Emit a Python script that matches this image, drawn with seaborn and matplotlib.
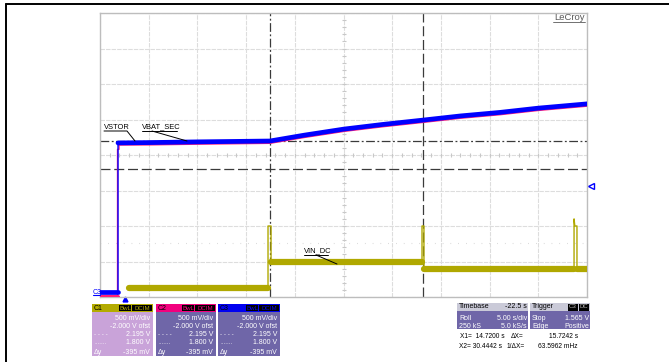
import numpy as np
import pandas as pd
import seaborn as sns
import matplotlib.pyplot as plt
from matplotlib.patches import Rectangle
from matplotlib.lines import Line2D

W, H = 669, 362

# ---- traces: time (s from left edge of screen), volts ----
c3_t = [0, 1.85, 1.85, 5, 10, 17.45, 21, 25.05, 29, 33.06, 37, 41.07, 45, 50]
c3_v = [0.07, 0.07, 2.17, 2.175, 2.185, 2.197, 2.28, 2.365, 2.43, 2.49, 2.55, 2.60, 2.66, 2.72]

c2_t = [0, 1.8, 1.8, 1.95, 1.95, 5, 10, 17.45, 21, 25.05, 29, 33.06, 37, 41.07, 45, 50]
c2_v = [0.0, 0.0, 2.08, 2.08, 2.16, 2.162, 2.172, 2.184, 2.267, 2.352, 2.417, 2.477, 2.537, 2.587, 2.647, 2.707]

c1_t = [2.98, 17.25, 17.25, 17.56, 17.56, 33.06, 33.06, 33.26, 33.26, 48.67, 48.67, 48.75, 48.75, 48.97, 48.97, 50]
c1_v = [0.13, 0.13, 1.0, 1.0, 0.50, 0.50, 1.0, 1.0, 0.40, 0.40, 1.10, 1.0, 1.0, 1.0, 0.40, 0.40]

# cursors
x1_t, x2_t = 17.45, 33.17
y1_v, y2_v = 2.195, 1.800
trig_level = 1.565
trig_time = 2.57

# panel texts
chan_names = ['C1', 'C2', 'C3']
chan_head = ['#b3ab00', '#f2007e', '#0000f0']
chan_body = ['#c9a3d9', '#6f66a8', '#6f66a8']
chan_rows = ['500 mV/div', '-2.000 V ofst', '2.195 V', '1.800 V', '-395 mV']
chan_syms = ['', '', '- - - -', '.......', '\u0394y']

YELLOW, MAGENTA, BLUE = '#b0a800', '#ff1f7a', '#0000ff'


def to_df(t, v):
    df = pd.DataFrame({'t': t, 'v': v})
    # segment id changes at every vertical jump
    df['seg'] = (df['t'].diff() == 0).cumsum()
    return df


def flat_parts(df):
    # keep only the runs that span some time (the noisy bands)
    g = df.groupby('seg')['t'].agg(lambda s: s.max() - s.min())
    return df[df['seg'].isin(g[g > 0.5].index)]


sns.set_style('white')
plt.rcParams['font.family'] = ['Liberation Sans', 'DejaVu Sans']

fig = plt.figure(figsize=(W / 100, H / 100), dpi=100)
ax = fig.add_axes([100 / W, 1 - 297 / H, 487 / W, 284 / H])
ax.set_xlim(0, 50)
ax.set_ylim(0, 4)
ax.set_xticks(np.arange(0, 50.1, 5))
ax.set_yticks(np.arange(0, 4.01, 0.5))
ax.tick_params(length=0, labelbottom=False, labelleft=False)
ax.grid(True, color='#dddddd', lw=0.8, ls=(0, (4, 1)))
ax.set_axisbelow(True)
for s in ax.spines.values():
    s.set_color('#bdbdbd')
    s.set_linewidth(1)

# center cross minor ticks
ax.plot(np.arange(0, 50.1, 1), np.full(51, 2.0), ls='none', marker='|', ms=3, color='#c8c8c8', mew=0.8)
ax.plot(np.full(41, 25.0), np.arange(0, 4.01, 0.1), ls='none', marker='_', ms=3, color='#c8c8c8', mew=0.8)
ax.axhline(0.765, color='#cccccc', lw=0.8, ls=(0, (0.6, 6.4)))

# cursors
ax.axvline(x1_t, color='#3a3a3a', lw=0.9, ls=(0, (7, 2, 1.5, 2)), zorder=2)
ax.axhline(y1_v, color='#3a3a3a', lw=0.9, ls=(0, (7, 2, 1.5, 2)), zorder=2)
ax.axvline(x2_t, color='#3a3a3a', lw=0.9, ls=(0, (8, 3)), zorder=2)
ax.axhline(y2_v, color='#3a3a3a', lw=0.9, ls=(0, (8, 3)), zorder=2)

# traces
c1 = to_df(c1_t, c1_v)
c2 = to_df(c2_t, c2_v)
c3 = to_df(c3_t, c3_v)

sns.lineplot(data=c1, x='t', y='v', sort=False, estimator=None, color=YELLOW, lw=1.0, ax=ax, zorder=3)
sns.lineplot(data=flat_parts(c1), x='t', y='v', units='seg', sort=False, estimator=None,
             color=YELLOW, lw=4.5, ax=ax, zorder=3)
sns.lineplot(data=c2, x='t', y='v', sort=False, estimator=None, color=MAGENTA, lw=1.0, ax=ax, zorder=4)
sns.lineplot(data=flat_parts(c2), x='t', y='v', units='seg', sort=False, estimator=None,
             color=MAGENTA, lw=3.0, ax=ax, zorder=4)
sns.lineplot(data=c3, x='t', y='v', sort=False, estimator=None, color=BLUE, lw=1.0, ax=ax, zorder=5)
sns.lineplot(data=flat_parts(c3), x='t', y='v', units='seg', sort=False, estimator=None,
             color=BLUE, lw=3.4, ax=ax, zorder=5)
ax.set_xlabel('')
ax.set_ylabel('')

# trigger markers
ax.plot([50.4], [trig_level], marker='<', ms=4, mfc='white', mec=BLUE, mew=1, clip_on=False)
ax.plot([trig_time], [-0.03], marker='^', ms=3.5, color=BLUE, clip_on=False)


def P(x, y):
    return x / W, 1 - y / H


def box(x0, y0, x1, y1, color):
    fig.patches.append(Rectangle(P(x0, y1), (x1 - x0) / W, (y1 - y0) / H,
                                 transform=fig.transFigure, facecolor=color, edgecolor='none'))


def txt(x, y, s, ha='left', color='white', size=5.0, **kw):
    fig.text(*P(x, y), s, ha=ha, va='center', color=color, fontsize=size, **kw)


def line(pts, color='black', lw=0.7):
    xs = [p[0] / W for p in pts]
    ys = [1 - p[1] / H for p in pts]
    fig.add_artist(Line2D(xs, ys, color=color, lw=lw))


# trace labels
txt(104, 127, 'VSTOR', color='black', size=5.4)
line([(104, 131), (127, 131), (135, 141)])
txt(142, 127, 'VBAT_SEC', color='black', size=5.4)
line([(142, 131), (177, 131)])
line([(152, 131), (187, 141)])
txt(304, 251, 'VIN_DC', color='black', size=5.4)
line([(304, 255), (328, 255)])
line([(316, 255), (337, 264)])

# LeCroy
txt(585, 17, 'LeCroy', ha='right', color='#5a5a5a', size=6.8)
line([(553, 22), (585, 22)], color='#5a5a5a', lw=0.6)

# ground marker C3
txt(93, 292, 'C3', color=BLUE, size=5.0)
line([(93, 295), (100, 295)], color=BLUE, lw=0.8)

# outer frame
line([(6, 4), (669, 4)], lw=1.4)
line([(6, 4), (6, 362)], lw=1.4)

# channel panels
panel_x = [(92, 153), (156, 216), (218, 280)]
row_y = [318, 327, 335, 343, 352]
for (x0, x1), name, hc, bc in zip(panel_x, chan_names, chan_head, chan_body):
    box(x0, 304, x1, 356, bc)
    box(x0, 304, x1, 312, hc)
    txt(x0 + 1.5, 308, name, color='black', size=5.0)
    box(x1 - 34, 305, x1 - 22, 311, 'black')
    box(x1 - 21, 305, x1 - 1, 311, 'black')
    txt(x1 - 28, 308, 'BwL', ha='center', color=hc, size=4.4)
    txt(x1 - 11, 308, 'DCIM', ha='center', color=hc, size=4.4)
    for y, r, s in zip(row_y, chan_rows, chan_syms):
        txt(x1 - 3, y, r, ha='right')
        if s:
            txt(x0 + 2, y, s, size=4.6 if s != '\u0394y' else 5.0)

# timebase / trigger panels
box(457, 303, 528, 329, '#6f66a8')
box(457, 303, 528, 311, '#cacad8')
txt(458.5, 307, 'Timebase', color='black')
txt(527, 307, '-22.5 s', ha='right', color='black')
txt(459, 318, 'Roll')
txt(527, 318, '5.00 s/div', ha='right')
txt(459, 326, '250 kS')
txt(527, 326, '5.0 kS/s', ha='right')

box(530, 303, 590, 329, '#6f66a8')
box(530, 303, 590, 311, '#cacad8')
txt(531.5, 307, 'Trigger', color='black')
box(568, 304, 578, 310.5, 'black')
box(579, 304, 589, 310.5, 'black')
txt(573, 307, 'C3', ha='center', color='#bbbbbb', size=4.4)
txt(584, 307, 'DC', ha='center', color='#bbbbbb', size=4.4)
txt(532, 318, 'Stop')
txt(589, 318, '1.565 V', ha='right')
txt(532, 326, 'Edge')
txt(589, 326, 'Positive', ha='right')

# cursor readout
txt(460, 337, 'X1=  14.7200 s', color='black', size=4.8)
txt(511, 337, '\u0394X=', color='black', size=4.8)
txt(578, 337, '15.7242 s', ha='right', color='black', size=4.8)
txt(459, 346, 'X2= 30.4442 s', color='black', size=4.8)
txt(507, 346, '1/\u0394X=', color='black', size=4.8)
txt(578, 346, '63.5962 mHz', ha='right', color='black', size=4.8)

fig.savefig('out.png', dpi=100)
